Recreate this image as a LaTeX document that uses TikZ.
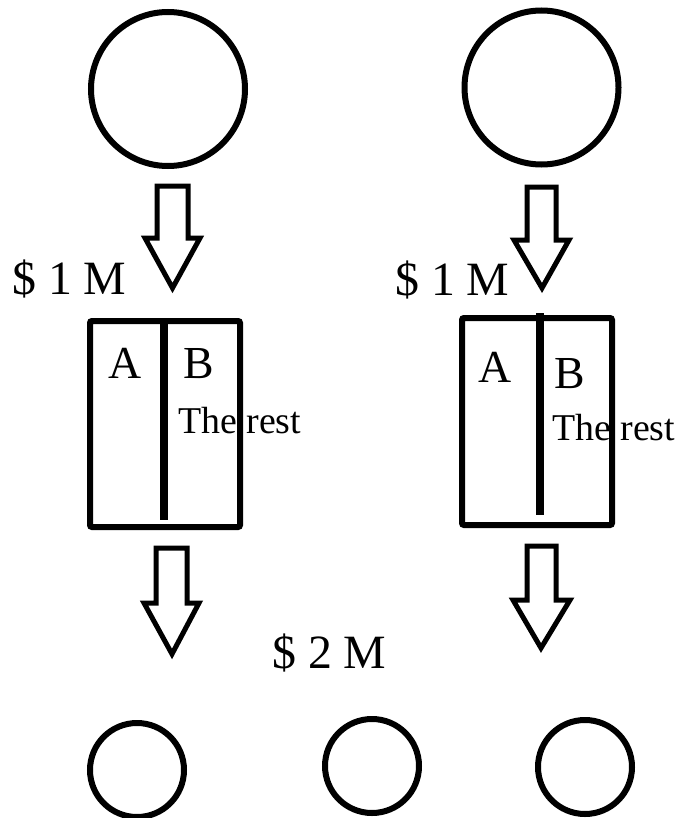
\documentclass[tikz,border=0pt]{standalone}
\usepackage{fontspec}
\setmainfont{Liberation Serif}
\begin{document}
\begin{tikzpicture}[x=1bp,y=-1bp,
  ring/.style={draw,circle,line width=6bp,inner sep=0pt},
  arrowline/.style={draw,line width=5bp,line join=miter},
  boxline/.style={draw,line width=6bp,rounded corners=2bp,inner sep=0pt},
  divider/.style={draw,line width=8bp},
  big/.style={font=\fontsize{48}{48}\selectfont,inner sep=0pt,anchor=base west},
  letter/.style={font=\fontsize{46}{46}\selectfont,inner sep=0pt,anchor=base},
  small/.style={font=\fontsize{38}{38}\selectfont,inner sep=0pt,anchor=base west}]
\useasboundingbox (0,0) rectangle (681,818);
% top circles
\node[ring,minimum size=154bp] (srcL) at (168,89) {};
\node[ring,minimum size=154bp] (srcR) at (541.5,87.5) {};
% bottom circles
\node[ring,minimum size=94bp] (dst1) at (137,770) {};
\node[ring,minimum size=94bp] (dst2) at (372,766) {};
\node[ring,minimum size=94bp] (dst3) at (585,767) {};
% boxes
\node[boxline,minimum width=150bp,minimum height=206bp] (boxL) at (165,424) {};
\node[boxline,minimum width=150bp,minimum height=207bp] (boxR) at (537,421.5) {};
\draw[divider] (164,319) -- (164,520);
\draw[divider] (540,313) -- (540,515);
% block arrows
\draw[arrowline] (157,186) -- (188,186) -- (188,238) -- (200,238) -- (172.5,288) -- (145,238) -- (157,238) -- cycle;
\draw[arrowline] (527,187) -- (556,187) -- (556,240) -- (569,240) -- (542,288) -- (514,240) -- (527,240) -- cycle;
\draw[arrowline] (156,548) -- (187,548) -- (187,603) -- (199,603) -- (172,654) -- (144,603) -- (156,603) -- cycle;
\draw[arrowline] (527,546) -- (556,546) -- (556,600) -- (570,600) -- (541,648) -- (513,600) -- (527,600) -- cycle;
% texts
\node[big] (m1L) at (12,294) {\$ 1 M};
\node[big] (m1R) at (395,295) {\$ 1 M};
\node[big] (m2) at (272,668) {\$ 2 M};
\node[letter] (aL) at (125,378) {A};
\node[letter] (bL) at (199,378) {B};
\node[letter] (aR) at (495,382) {A};
\node[letter] (bR) at (570,388) {B};
\node[small] (restL) at (178,433) {The rest};
\node[small] (restR) at (552,440) {The rest};
\end{tikzpicture}
\end{document}
